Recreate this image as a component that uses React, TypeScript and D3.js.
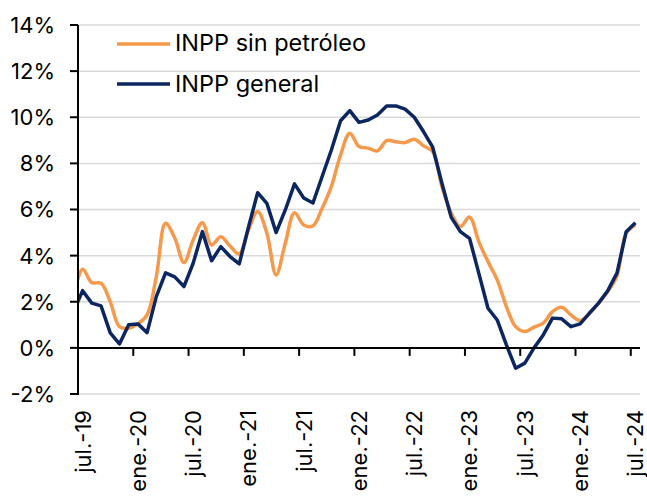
import React, { useEffect } from "react";
import * as d3 from "d3";

// Monthly categories: jun-19 (clipped lead-in) through jul-24
const months: Date[] = d3.timeMonths(new Date(2019, 5, 1), new Date(2024, 7, 1));

const tickLabels = [
  "jul.-19", "ene.-20", "jul.-20", "ene.-21", "jul.-21", "ene.-22",
  "jul.-22", "ene.-23", "jul.-23", "ene.-24", "jul.-24",
];

const yTicks = [-2, 0, 2, 4, 6, 8, 10, 12, 14];

const inppGeneral = [
  1.55, 2.48, 1.94, 1.82, 0.65, 0.17, 1.0, 1.04, 0.66, 2.22, 3.25, 3.08, 2.66,
  3.67, 5.04, 3.78, 4.39, 3.96, 3.64, 5.23, 6.73, 6.27, 5.0, 5.98, 7.11, 6.5,
  6.28, 7.43, 8.58, 9.85, 10.29, 9.78, 9.88, 10.1, 10.49, 10.49, 10.35, 10.0,
  9.38, 8.7, 7.14, 5.67, 5.04, 4.75, 3.24, 1.72, 1.21, 0.13, -0.88, -0.66, 0.0,
  0.56, 1.29, 1.26, 0.92, 1.04, 1.5, 1.94, 2.48, 3.24, 5.04, 5.43,
];

const inppSinPetroleo = [
  2.2, 3.41, 2.83, 2.8, 2.0, 0.92, 0.85, 1.04, 1.43, 3.09, 5.4, 4.76, 3.7,
  4.68, 5.43, 4.46, 4.82, 4.42, 4.07, 5.11, 5.91, 4.97, 3.16, 4.54, 5.86, 5.33,
  5.29, 6.05, 7.0, 8.37, 9.31, 8.73, 8.66, 8.54, 8.99, 8.94, 8.9, 9.05, 8.76,
  8.52, 6.99, 5.86, 5.26, 5.67, 4.61, 3.74, 2.95, 1.79, 0.92, 0.71, 0.9, 1.07,
  1.57, 1.76, 1.43, 1.18, 1.5, 1.94, 2.44, 3.12, 4.97, 5.33,
];

const seriesNames = ["INPP sin petróleo", "INPP general"];
const ORANGE = "#F7994A";
const NAVY = "#0B2661";
const FONT = "Inter, 'Liberation Sans', Arial, sans-serif";

export default function App() {
  useEffect(() => {
    document.body.style.margin = "0";
  }, []);

  const W = 647, H = 497;
  const left = 78, right = 640, top = 25, bottom = 394;

  const x = d3.scaleLinear().domain([0.5, months.length - 0.5]).range([left, right]);
  const y = d3.scaleLinear().domain([-2, 14]).range([bottom, top]);

  const lineGeneral = d3
    .line<number>()
    .x((_, i) => x(i))
    .y((d) => y(d))
    .curve(d3.curveLinear);

  const lineSin = d3
    .line<number>()
    .x((_, i) => x(i))
    .y((d) => y(d))
    .curve(d3.curveCatmullRom.alpha(0.5));

  const boundaryTicks = tickLabels.map((_, k) => 0.5 + 6 * k);
  const labelIdx = tickLabels.map((_, k) => 1 + 6 * k);

  return (
    <svg width={W} height={H} style={{ display: "block" }} fontFamily={FONT}>
      <defs>
        <clipPath id="plot">
          <rect x={left} y={0} width={right - left} height={H} />
        </clipPath>
      </defs>
      {/* gridlines */}
      {yTicks.filter((t) => t !== 0).map((t) => (
        <line key={t} x1={left} x2={right} y1={y(t)} y2={y(t)} stroke="#D9D9D9" strokeWidth={1.5} />
      ))}
      {/* y tick labels */}
      {yTicks.map((t) => (
        <g key={"yl" + t}>
          <line x1={left - 8} x2={left} y1={y(t)} y2={y(t)} stroke="#000" strokeWidth={2} />
          <text x={55} y={y(t)} dy="0.36em" textAnchor="end" fontSize={22} fill="#000">
            {t}%
          </text>
        </g>
      ))}
      {/* lines */}
      <g clipPath="url(#plot)">
        <path d={lineSin(inppSinPetroleo) || ""} fill="none" stroke={ORANGE} strokeWidth={3.5} strokeLinejoin="round" />
        <path d={lineGeneral(inppGeneral) || ""} fill="none" stroke={NAVY} strokeWidth={3.5} strokeLinejoin="round" />
      </g>
      {/* x axis at 0 */}
      <line x1={left} x2={right} y1={y(0)} y2={y(0)} stroke="#000" strokeWidth={2} />
      {boundaryTicks.map((t) => (
        <line key={"xt" + t} x1={x(t)} x2={x(t)} y1={y(0)} y2={y(0) + 8} stroke="#000" strokeWidth={2} />
      ))}
      {/* y axis */}
      <line x1={left} x2={left} y1={top} y2={bottom + 1} stroke="#000" strokeWidth={2} />
      {/* x labels */}
      {tickLabels.map((lab, k) => (
        <text
          key={lab}
          transform={`translate(${x(labelIdx[k])},${410}) rotate(-90)`}
          dy="0.36em"
          textAnchor="end"
          fontSize={22}
          fill="#000"
        >
          {lab}
        </text>
      ))}
      {/* legend */}
      <line x1={117} x2={170} y1={44} y2={44} stroke={ORANGE} strokeWidth={3.5} />
      <text x={175} y={43} dy="0.36em" fontSize={23.5} fill="#000">{seriesNames[0]}</text>
      <line x1={117} x2={170} y1={84} y2={84} stroke={NAVY} strokeWidth={3.5} />
      <text x={175} y={83.5} dy="0.36em" fontSize={23.5} fill="#000">{seriesNames[1]}</text>
    </svg>
  );
}
